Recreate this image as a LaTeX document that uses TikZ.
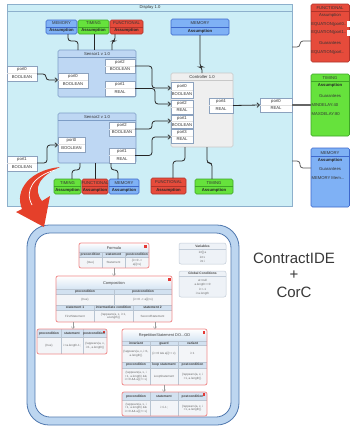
\documentclass[tikz,border=0pt]{standalone}
\usepackage{fontspec}
\setmainfont{Liberation Sans}
\usetikzlibrary{fit,calc,arrows.meta}

\definecolor{dispfill}{HTML}{CDEEF6}
\definecolor{displine}{HTML}{8DB0CC}
\definecolor{sensfill}{HTML}{BED7F3}
\definecolor{sensline}{HTML}{7D9DC6}
\definecolor{ctrlfill}{HTML}{EFEFEF}
\definecolor{ctrlline}{HTML}{C8C8C8}
\definecolor{portline}{HTML}{8CA2BE}
\definecolor{memfill}{HTML}{7FB1F5}
\definecolor{memline}{HTML}{3D68CC}
\definecolor{timfill}{HTML}{66E23C}
\definecolor{timline}{HTML}{3EA526}
\definecolor{funfill}{HTML}{E64B3B}
\definecolor{funline}{HTML}{B0332A}
\definecolor{wirec}{HTML}{262626}
\definecolor{bandfill}{HTML}{BDD6F0}
\definecolor{bandline}{HTML}{4E77AE}
\definecolor{cboxline}{HTML}{F08A8A}
\definecolor{hdrfill}{HTML}{D2E1F0}
\definecolor{titlefill}{HTML}{D6E5F3}
\definecolor{cellfill}{HTML}{F3F5F8}
\definecolor{gridline}{HTML}{B9C5D2}
\definecolor{ctextc}{HTML}{6A6A6A}
\definecolor{markred}{HTML}{E53935}
\definecolor{arrowred}{HTML}{E5402A}
\definecolor{varfill}{HTML}{EEF2F7}
\definecolor{varline}{HTML}{C2CCD8}

% port box: name, corners, port name, type
\newcommand\portbox[7]{%
  \node[port, fit={(#2,#3)(#4,#5)}] (#1) {};
  \draw[portsep] (#1.west) -- (#1.east);
  \node[txt] (#1-n) at ($(#1.center)!0.5!(#1.north)$) {#6};
  \node[txt] (#1-t) at ($(#1.center)!0.5!(#1.south)$) {#7};}

% contract box: name, corners, colour prefix, kind
\newcommand\assume[7]{%
  \node[asm, fill=#6fill, draw=#6line, fit={(#2,#3)(#4,#5)}] (#1) {};
  \draw[#6line, line width=0.5pt] (#1.west) -- (#1.east);
  \node[txt] (#1-k) at ($(#1.center)!0.5!(#1.north)$) {#7};
  \node[txtb] (#1-a) at ($(#1.center)!0.5!(#1.south)$) {Assumption};}

\newcommand\ct[4]{\node[ctext] (#1) at (#2,#3) {#4};}
\newcommand\ch[4]{\node[chead] (#1) at (#2,#3) {#4};}
\newcommand\cttl[4]{\node[ctitle] (#1) at (#2,#3) {#4};}

\begin{document}
\begin{tikzpicture}[x=1pt, y=-1pt,
  every node/.style={inner sep=0pt, outer sep=0pt},
  txt/.style={font=\fontsize{4.2}{4.8}\selectfont, text=black!80},
  txtb/.style={font=\fontsize{4.2}{4.8}\selectfont\bfseries, text=black!85},
  port/.style={draw=portline, fill=white, line width=0.5pt},
  portsep/.style={draw=black!12, line width=0.3pt},
  asm/.style={rounded corners=1.5pt, line width=0.6pt},
  wire/.style={draw=wirec, line width=0.8pt, rounded corners=3pt},
  wireg/.style={draw=black!65, line width=0.8pt, rounded corners=3pt},
  arr/.style={-{Straight Barb[length=2.6pt,width=4.6pt,line width=0.7pt]}},
  side/.style={rounded corners=1.5pt, line width=0.6pt},
  ctext/.style={font=\fontsize{3}{3.5}\selectfont, text=ctextc, align=center},
  chead/.style={font=\fontsize{3.3}{3.6}\selectfont\bfseries, text=black!75, align=center},
  ctitle/.style={font=\fontsize{3.9}{4.2}\selectfont, text=black!75},
  vtext/.style={font=\fontsize{3}{3.5}\selectfont, text=ctextc},
  vhead/.style={font=\fontsize{3.3}{3.6}\selectfont\bfseries, text=black!70},
  cbox/.style={draw=cboxline, line width=0.8pt, rounded corners=2pt},
  grid/.style={draw=gridline, line width=0.3pt},
  flow/.style={draw=black!40, line width=0.4pt, -{Straight Barb[length=2pt,width=3.4pt,line width=0.4pt]}},
  redmark/.style={fill=markred},
  big/.style={font=\fontsize{15}{18}\selectfont, text=black!78},
]
\useasboundingbox (0,0) rectangle (350,426);
\fill[white] (0,0) rectangle (350,426);

% ---------------- Display system ----------------
\node[draw=displine, fill=dispfill, line width=0.6pt, fit={(7,4)(292,206)}] (disp) {};
\draw[displine, line width=0.5pt] (disp.west |- 0,11) -- (disp.east |- 0,11);
\node[txt] (disp-t) at (150,7.6) {Display 1.0};

% Sensor1
\node[draw=sensline, fill=sensfill, line width=0.6pt, rounded corners=1.5pt, fit={(58,50)(136,97)}] (s1) {};
\draw[sensline, line width=0.5pt] (s1.west |- 0,57) -- (s1.east |- 0,57);
\node[txt] (s1-t) at (97,53.6) {Sensor1 v 1.0};
\portbox{s1p0}{58}{73}{88}{88}{port0}{BOOLEAN}
\portbox{s1p2}{105}{59}{135}{73}{port2}{BOOLEAN}
\portbox{s1p1}{105}{81}{135}{96}{port1}{REAL}
\portbox{e0}{7}{66}{37}{81}{port0}{BOOLEAN}

% Sensor2
\node[draw=sensline, fill=sensfill, line width=0.6pt, rounded corners=1.5pt, fit={(58,113)(136,163)}] (s2) {};
\draw[sensline, line width=0.5pt] (s2.west |- 0,120) -- (s2.east |- 0,120);
\node[txt] (s2-t) at (97,116.6) {Sensor2 v 1.0};
\portbox{s2p2}{109}{122}{135}{136}{port2}{BOOLEAN}
\portbox{s2p0}{58}{137}{85}{152}{port0}{BOOLEAN}
\portbox{s2p1}{109}{148}{135}{163}{port1}{REAL}
\portbox{e1}{7}{156}{37}{171}{port1}{BOOLEAN}

% Controller
\node[draw=ctrlline, fill=ctrlfill, line width=0.6pt, rounded corners=1.5pt, fit={(171,73)(233,147)}] (ctrl) {};
\draw[ctrlline, line width=0.5pt] (ctrl.west |- 0,80) -- (ctrl.east |- 0,80);
\node[txt] (ctrl-t) at (202,76.6) {Controller 1.0};
\portbox{cp0}{171}{82}{193}{98}{port0}{BOOLEAN}
\portbox{cp2}{171}{100}{193}{114}{port2}{REAL}
\portbox{cp1}{171}{115}{193}{128}{port1}{BOOLEAN}
\portbox{cp3}{171}{129}{193}{143}{port3}{REAL}
\portbox{cp4}{209}{98}{233}{113}{port4}{REAL}
\portbox{eo}{260}{98}{292}{112}{port0}{REAL}

% contracts of the components
\assume{a1m}{46}{20}{77}{34}{mem}{MEMORY}
\assume{a1t}{78}{20}{109}{34}{tim}{TIMING}
\assume{a1f}{110}{20}{143}{34}{fun}{FUNCTIONAL}
\assume{acm}{171}{19}{229}{35}{mem}{MEMORY}
\assume{a2t}{54}{179}{81}{194}{tim}{TIMING}
\assume{a2f}{82}{179}{108}{194}{fun}{FUNCTIONAL}
\assume{a2m}{109}{179}{139}{194}{mem}{MEMORY}
\assume{acf}{151}{178}{186}{194}{fun}{FUNCTIONAL}
\assume{act}{195}{179}{233}{194}{tim}{TIMING}

% contract links
\draw[wire] (a1m.south -| 68,0) -- ++(0,7) -| (s1.north -| 78,0);
\draw[wire] (a1t.south -| 94,0) -- (s1.north -| 94,0);
\draw[wire] (a1f.south -| 115,0) -- ++(0,7) -| (s1.north -| 112,0);
\draw[wire] (acm.south -| 200,0) -- ++(0,32) -| (ctrl.north -| 202,0);
\draw[wire] (s2.south -| 80,0) -- ++(0,7) -| (a2t.north -| 72,0);
\draw[wire] (s2.south -| 95,0) -- (a2f.north -| 95,0);
\draw[wire] (s2.south -| 111,0) -- ++(0,7) -| (a2m.north -| 118,0);
\draw[wire] (ctrl.south -| 185,0) -- ++(0,14) -| (acf.north -| 173,0);
\draw[wire] (ctrl.south -| 207,0) -- ++(0,16) -| (act.north -| 212,0);

% port links
\draw[wire,arr] (e0.east |- 0,74) -- ++(9,0) |- (s1p0.west |- 0,80);
\draw[wire,arr] (s1p2.east) -- ++(17,0) |- (cp0.west |- 0,88);
\draw[wire,arr] (s1p1.east) -- ++(20,0) |- (cp2.west |- 0,104);
\draw[wire,arr] (s2p2.east) -- ++(17,0) |- (cp1.west |- 0,121);
\draw[wire,arr] (s2p1.east) -- ++(17,0) |- (cp3.west |- 0,137);
\draw[wire,arr] (e1.east |- 0,163) -- ++(10,0) |- (s2p0.west |- 0,145);
\draw[wire,arr] (cp4.east) -- (eo.west);

% ---------------- system contracts ----------------
\node[side, fill=funfill, draw=funline, fit={(311,4)(349.5,62)}] (rf) {};
\draw[funline, line width=0.4pt] (rf.west |- 0,11.5) -- (rf.east |- 0,11.5);
\node[txt] (rf-1) at (330,8) {FUNCTIONAL};
\node[txt] (rf-2) at (330,15.6) {Assumption};
\node[txt, anchor=west] (rf-3) at (311.3,24) {EQUATION(port0..};
\node[txt, anchor=west] (rf-4) at (311.3,32.5) {EQUATION(port1..};
\node[txt] (rf-5) at (330,43) {Guarantees};
\node[txt, anchor=west] (rf-6) at (311.3,52.5) {EQUATION(port..};
\fill[white] (347,21) rectangle (349.5,27);
\fill[white] (347,30) rectangle (349.5,35.5);

\node[side, fill=timfill, draw=timline, fit={(311,74)(349.5,136)}] (rt) {};
\draw[timline, line width=0.4pt] (rt.west |- 0,81.5) -- (rt.east |- 0,81.5);
\node[txt] (rt-1) at (330,78.3) {TIMING};
\node[txtb] (rt-2) at (330,85.5) {Assumption};
\node[txt] (rt-3) at (330,96) {Guarantees};
\node[txt, anchor=west] (rt-4) at (311.5,105) {MINDELAY:40};
\node[txt, anchor=west] (rt-5) at (311.5,114) {MAXDELAY:80};

\node[side, fill=memfill, draw=memline, fit={(311,148)(349.5,207)}] (rm) {};
\draw[memline, line width=0.5pt] (rm.west |- 0,156) -- (rm.east |- 0,156);
\node[txt] (rm-1) at (330,152.7) {MEMORY};
\node[txtb] (rm-2) at (330,160.3) {Assumption};
\node[txt] (rm-3) at (330,169.5) {Guarantees};
\node[txt, anchor=west] (rm-4) at (311.5,178.5) {MEMORY Mem...};

\draw[wireg] (disp.east |- 0,47) -- ++(8,0) |- (rf.west |- 0,41);
\draw[draw=black!60, line width=1.5pt] (disp.east |- 0,105) -- (rt.west |- 0,105);
\draw[wireg] (disp.east |- 0,161) -- ++(8,0) |- (rm.west |- 0,168);

% ---------------- CorC frame ----------------
\node[draw=bandline, fill=bandfill, line width=0.8pt, rounded corners=22pt, fit={(27,225)(239,425)}] (frame) {};
\node[draw=bandline, fill=white, line width=0.8pt, rounded corners=15pt, fit={(35,233)(231,417)}] (canvas) {};

\node[big] (lbl1) at (294,258) {ContractIDE};
\node[big] (lbl2) at (294,275) {+};
\node[big] (lbl3) at (294,292) {CorC};

% Formula
\begin{scope}
  \clip[rounded corners=2pt] (79,243) rectangle (149,268);
  \shade[top color=white, bottom color=titlefill] (79,243) rectangle (149,252);
  \fill[hdrfill] (79,252) rectangle (149,257);
  \fill[cellfill] (79,257) rectangle (149,268);
  \draw[grid] (79,252) -- (149,252) (79,257) -- (149,257) (102,252) -- (102,268) (125,252) -- (125,268);
\end{scope}
\node[cbox, fit={(79,243)(149,268)}] (formula) {};
\fill[redmark] (144,245) rectangle (147,248);
\cttl{fo-t}{114}{248}{Formula}
\ch{fo-h1}{90.5}{254.6}{precondition}
\ch{fo-h2}{113.5}{254.6}{statement}
\ch{fo-h3}{137}{254.6}{postcondition}
\ct{fo-b1}{90.5}{262.5}{\{true\}}
\ct{fo-b2}{113.5}{262.5}{Statement}
\ct{fo-b3}{137}{262.5}{\{i>=0 ->\\a[i]=x\}}

% Composition
\begin{scope}
  \clip[rounded corners=2pt] (56,276) rectangle (172,322);
  \shade[top color=white, bottom color=titlefill] (56,276) rectangle (172,289);
  \fill[hdrfill] (56,289) rectangle (172,294);
  \fill[cellfill] (56,294) rectangle (172,305);
  \fill[hdrfill] (56,305) rectangle (172,310);
  \fill[cellfill] (56,310) rectangle (172,322);
  \draw[grid] (56,289) -- (172,289) (56,294) -- (172,294) (56,305) -- (172,305) (56,310) -- (172,310)
    (114,289) -- (114,305) (94,305) -- (94,322) (133,305) -- (133,322);
\end{scope}
\node[cbox, fit={(56,276)(172,322)}] (comp) {};
\fill[redmark] (167.5,278) rectangle (170.5,281);
\cttl{co-t}{114}{283}{Composition}
\ch{co-h1}{85}{291.6}{precondition}
\ch{co-h2}{143}{291.6}{postcondition}
\ct{co-b1}{85}{299.5}{\{true\}}
\ct{co-b2}{143}{299.5}{\{i>=0 -> a[i]=x\}}
\ch{co-h3}{75}{307.6}{statement 1}
\ch{co-h4}{113.5}{307.6}{intermediate condition}
\ch{co-h5}{152.5}{307.6}{statement 2}
\ct{co-b3}{75}{316}{FirstStatement}
\ct{co-b4}{113.5}{316}{\{!appears(a, x, i+1,\\a.length)\}}
\ct{co-b5}{152.5}{316}{SecondStatement}

% first statement
\begin{scope}
  \clip[rounded corners=2pt] (37,329) rectangle (107,354);
  \fill[hdrfill] (37,329) rectangle (107,337);
  \fill[cellfill] (37,337) rectangle (107,354);
  \draw[grid] (37,337) -- (107,337) (61,329) -- (61,354) (83,329) -- (83,354);
\end{scope}
\node[cbox, fit={(37,329)(107,354)}] (first) {};
\fill[redmark] (102.5,330.5) rectangle (105.3,333.3);
\ch{fi-h1}{49}{333.4}{precondition}
\ch{fi-h2}{72}{333.4}{statement}
\ch{fi-h3}{94}{333.4}{postcondition}
\ct{fi-b1}{49}{345.5}{\{true\}}
\ct{fi-b2}{72}{345.5}{i:=a.length-1;}
\ct{fi-b3}{95}{345.5}{\{!appears(a, x,\\i+1, a.length)\}}

% repetition
\begin{scope}
  \clip[rounded corners=2pt] (122,329) rectangle (207,385);
  \shade[top color=white, bottom color=titlefill] (122,329) rectangle (207,341);
  \fill[hdrfill] (122,341) rectangle (207,345.5);
  \fill[cellfill] (122,345.5) rectangle (207,362);
  \fill[hdrfill] (122,362) rectangle (207,368);
  \fill[cellfill] (122,368) rectangle (207,385);
  \draw[grid] (122,341) -- (207,341) (122,345.5) -- (207,345.5) (122,362) -- (207,362) (122,368) -- (207,368)
    (150,341) -- (150,385) (178,341) -- (178,385);
\end{scope}
\node[cbox, fit={(122,329)(207,385)}] (rep) {};
\fill[redmark] (202.5,331) rectangle (205.2,333.6);
\cttl{re-t}{164.5}{335.2}{RepetitionStatement DO...OD}
\ch{re-h1}{136}{343.4}{invariant}
\ch{re-h2}{164}{343.4}{guard}
\ch{re-h3}{192.5}{343.4}{variant}
\ct{re-b1}{136}{353.7}{\{!appears(a, x, i+1,\\a.length)\}}
\ct{re-b2}{164}{353.7}{\{i>=0 \&\& a[i] != x\}}
\ct{re-b3}{192.5}{353.7}{i+1}
\ch{re-h4}{136}{365.1}{precondition}
\ch{re-h5}{164}{365.1}{loop statement}
\ch{re-h6}{192.5}{365.1}{postcondition}
\ct{re-b4}{136}{376.5}{\{!appears(a, x, i\\+1, a.length) \&\&\\i>=0 \&\& a[i] != x\}}
\ct{re-b5}{164}{376.5}{LoopStatement}
\ct{re-b6}{192.5}{376.5}{\{!appears(a, x, i\\+1, a.length)\}}

% loop body
\begin{scope}
  \clip[rounded corners=2pt] (122,392) rectangle (207,416);
  \fill[hdrfill] (122,392) rectangle (207,400);
  \fill[cellfill] (122,400) rectangle (207,416);
  \draw[grid] (122,400) -- (207,400) (150,392) -- (150,416) (178,392) -- (178,416);
\end{scope}
\node[cbox, fit={(122,392)(207,416)}] (body) {};
\fill[redmark] (202.5,393.3) rectangle (205.2,396);
\ch{bo-h1}{136}{396.2}{precondition}
\ch{bo-h2}{164}{396.2}{statement}
\ch{bo-h3}{192.5}{396.2}{postcondition}
\ct{bo-b1}{136}{408}{\{!appears(a, x, i\\+1, a.length) \&\&\\i>=0 \&\& a[i] != x\}}
\ct{bo-b2}{164}{408}{i:=i-1;}
\ct{bo-b3}{192.5}{408}{\{!appears(a, x, i\\+1, a.length)\}}

% refinement links
\draw[flow] (formula.south -| 114,0) -- (comp.north -| 114,0);
\draw[flow] (comp.south -| 73,0) -- (first.north -| 73,0);
\draw[flow] (comp.south -| 155,0) -- (rep.north -| 155,0);
\draw[flow] (rep.south -| 164,0) -- (body.north -| 164,0);

% variables and global conditions
\node[draw=varline, fill=varfill, line width=0.5pt, rounded corners=2pt, fit={(179,243)(226,264)}] (vars) {};
\draw[varline, line width=0.4pt] (vars.west |- 0,249) -- (vars.east |- 0,249);
\node[vhead] (va-t) at (202.5,246.2) {Variables};
\node[vtext] (va-1) at (202.5,252.6) {int[] a};
\node[vtext] (va-2) at (202.5,257.3) {int x};
\node[vtext] (va-3) at (202.5,261.8) {int i};

\node[draw=varline, fill=varfill, line width=0.5pt, rounded corners=2pt, fit={(179,271)(226,297)}] (glob) {};
\draw[varline, line width=0.4pt] (glob.west |- 0,276) -- (glob.east |- 0,276);
\node[vhead] (gl-t) at (202.5,273.4) {Global Conditions};
\node[vtext] (gl-1) at (202.5,280) {a!=null};
\node[vtext] (gl-2) at (202.5,284.6) {a.length>=0};
\node[vtext] (gl-3) at (202.5,289.2) {i>=-1};
\node[vtext] (gl-4) at (202.5,293.8) {i<a.length};

% ---------------- transition arrow ----------------
\fill[arrowred] (60,167) .. controls (30,170) and (14,190) .. (22,209)
  -- (16,212) -- (44,227) -- (50,196) -- (42,201)
  .. controls (32,188) and (40,176) .. (60,167) -- cycle;
\draw[white, line width=0.7pt] (55,170) .. controls (34,176) and (24,190) .. (32,205);
\end{tikzpicture}
\end{document}
